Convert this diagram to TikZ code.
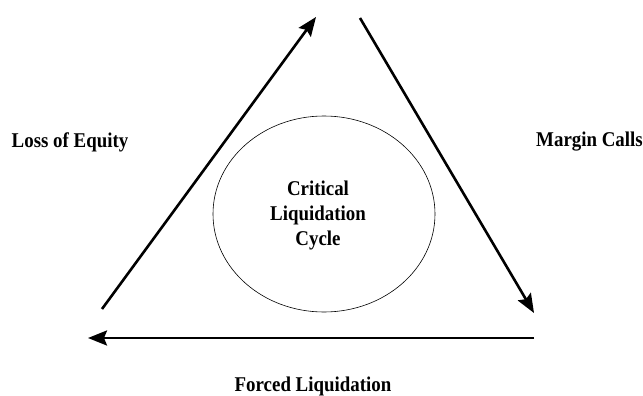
\documentclass[tikz,border=0pt]{standalone}
\usepackage{fontspec}
\setmainfont{Liberation Serif}
\newfontfamily\capfont[FakeStretch=0.9]{Liberation Serif}
\usetikzlibrary{arrows.meta,positioning,shapes.geometric}
\tikzstyle{caption} = [font=\capfont\bfseries\fontsize{21}{25}\selectfont, align=center, inner sep=0pt]
\tikzstyle{arrow} = [-{Stealth[length=19pt,width=15pt,inset=3pt]}, line width=2.6pt]

\begin{document}
\begin{tikzpicture}[x=1pt, y=-1pt]
    \useasboundingbox (0,0) rectangle (643,396);
    \coordinate (lstart) at (102,309);
    \coordinate (lend)   at (316,17);
    \coordinate (rstart) at (360,18);
    \coordinate (rend)   at (534,313);
    \coordinate (bstart) at (534,338);
    \coordinate (bend)   at (88,338);

    \node [ellipse, draw, line width=0.6pt, minimum width=222pt, minimum height=196pt] (cycle) at (324,214) {};
    \node [caption] (inner) at (318,215) {Critical\\Liquidation\\Cycle};
    \node [caption] (loss)   at (70,142)  {Loss of Equity};
    \node [caption, anchor=east] (margin) at (643,142) {Margin Calls};
    \node [caption] (forced) at (313,386) {Forced Liquidation};

    \draw [arrow] (lstart) -- (lend);
    \draw [arrow] (rstart) -- (rend);
    \draw [arrow] (bstart) -- (bend);
\end{tikzpicture}
\end{document}
